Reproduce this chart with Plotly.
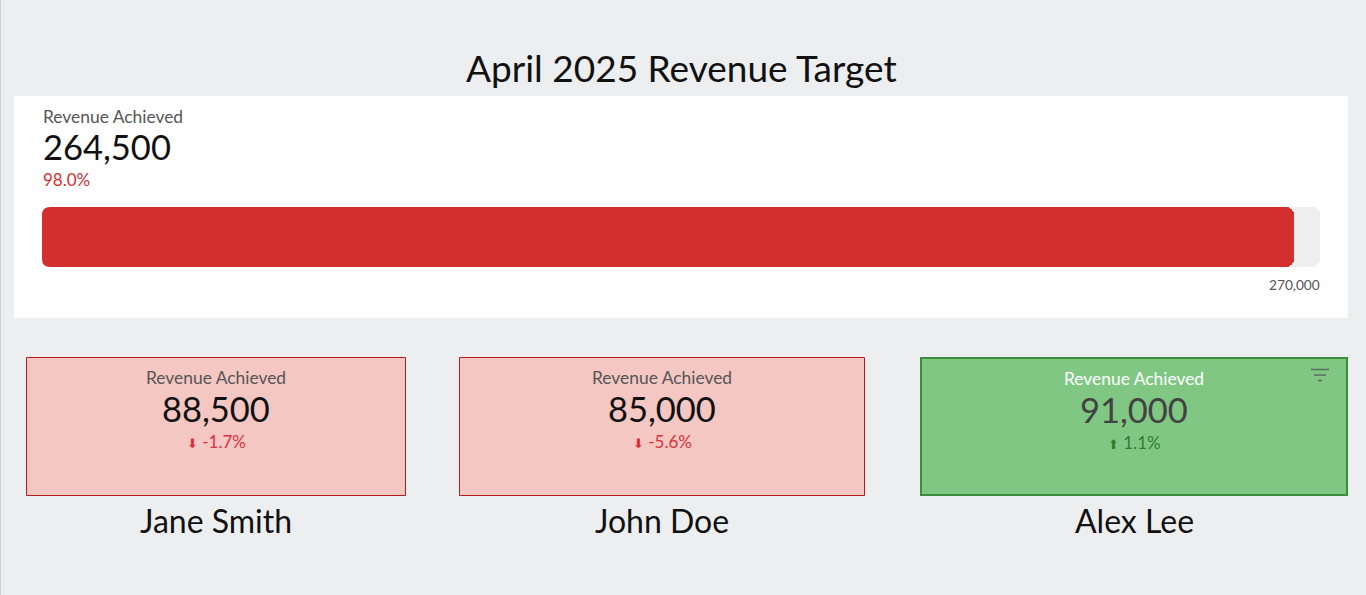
import plotly.graph_objects as go

WIDTH = 1366
HEIGHT = 595

# data
title = 'April 2025 Revenue Target'
metric_label = 'Revenue Achieved'
total_value = 264500
total_target = 270000
total_pct = '98.0%'
names = ['Jane Smith', 'John Doe', 'Alex Lee']
values = [88500, 85000, 91000]
changes = ['-1.7%', '-5.6%', '1.1%']
arrows = ['\u2b07', '\u2b07', '\u2b06']

# pixel boxes of the three cards (left, right, top, bottom)
card_left = [26.5, 459.5, 921]
card_right = [405.5, 864.5, 1347]
card_top = [357.5, 357.5, 358]
card_bottom = [495.5, 495.5, 495]
card_fill = ['#f4c7c3', '#f4c7c3', '#81c784']
card_line = ['#b71c1c', '#b71c1c', '#388e3c']
card_line_w = [1, 1, 2]
label_color = ['#555555', '#555555', '#ffffff']
value_color = ['#111111', '#111111', '#424242']
change_color = ['#d9303a', '#d9303a', '#2e7d32']
card_dy = [0, 0, 1]

BG = '#edeef0'
RED = '#d32f2f'
FONT = 'Lato'


def px(x):
    return x / WIDTH


def py(y):
    return 1 - y / HEIGHT


def add_text(fig, text, x, y, size, color, anchor='center'):
    fig.add_annotation(
        text=text, x=px(x), y=py(y), xref='paper', yref='paper',
        xanchor=anchor, yanchor='middle', showarrow=False,
        font=dict(family=FONT, size=size, color=color),
        borderpad=0, borderwidth=0,
    )


def add_box(fig, x0, x1, y0, y1, fill, line=None, width=0):
    fig.add_shape(
        type='rect', xref='paper', yref='paper', layer='below',
        x0=px(x0), x1=px(x1), y0=py(y1), y1=py(y0),
        fillcolor=fill, line=dict(color=line, width=width),
    )


def corner_mask(fig, x, y, dx, dy):
    # white corner so the left end of the bar looks rounded too
    path = (f'M {px(x)},{py(y)} L {px(x + dx)},{py(y)} '
            f'Q {px(x)},{py(y)} {px(x)},{py(y + dy)} Z')
    fig.add_shape(
        type='path', xref='paper', yref='paper', path=path,
        fillcolor='#ffffff', line=dict(width=0),
    )


fig = go.Figure()

# progress bar: track on one axis pair, achieved value on an overlaying pair
fig.add_trace(go.Bar(
    x=[total_target], y=[''], orientation='h',
    marker=dict(color='#eeeeee', line=dict(width=0), cornerradius=8),
    hoverinfo='skip', showlegend=False,
))
fig.add_trace(go.Bar(
    x=[total_value], y=[''], orientation='h', xaxis='x2', yaxis='y2',
    marker=dict(color=RED, line=dict(width=0), cornerradius=8),
    hoverinfo='skip', showlegend=False,
))

bar_xaxis = dict(
    domain=[px(42), px(1320)], range=[0, total_target],
    visible=False, fixedrange=True,
)
bar_yaxis = dict(domain=[py(267), py(207)], visible=False, fixedrange=True)

fig.update_layout(
    width=WIDTH,
    height=HEIGHT,
    autosize=False,
    margin=dict(l=0, r=0, t=0, b=0),
    paper_bgcolor=BG,
    plot_bgcolor='rgba(0,0,0,0)',
    bargap=0,
    xaxis=bar_xaxis,
    yaxis=bar_yaxis,
    xaxis2=dict(bar_xaxis, overlaying='x'),
    yaxis2=dict(bar_yaxis, overlaying='y'),
)

# page edge and white panel
add_box(fig, 0, 1, 0, HEIGHT, '#cfd2d6')
add_box(fig, 14, 1348, 96, 318, '#ffffff')

corner_mask(fig, 42, 207, 8, 8)
corner_mask(fig, 42, 267, 8, -8)

add_text(fig, title, 681, 67, 37, '#111111')
add_text(fig, metric_label, 43, 117, 17.4, '#555555', 'left')
add_text(fig, f'{total_value:,}', 42.5, 146, 34.5, '#111111', 'left')
add_text(fig, total_pct, 43, 179, 17, RED, 'left')
add_text(fig, f'{total_target:,}', 1320, 284.5, 13.7, '#555555', 'right')

for i, name in enumerate(names):
    center = (card_left[i] + card_right[i]) / 2
    dy = card_dy[i]
    add_box(fig, card_left[i], card_right[i], card_top[i], card_bottom[i],
            card_fill[i], card_line[i], card_line_w[i])
    add_text(fig, metric_label, center, 377.5 + dy, 17.4, label_color[i])
    add_text(fig, f'{values[i]:,}', center, 408 + dy, 34.5, value_color[i])
    add_text(
        fig,
        f'<span style="font-family:DejaVu Sans;font-size:13px">{arrows[i]}</span> {changes[i]}',
        center, 441 + dy, 17, change_color[i],
    )
    add_text(fig, name, center, 520, 32, '#111111')

# filter icon on the last card
for x0, x1, y in [(1311, 1329, 369.5), (1314, 1326, 375), (1318, 1322, 380.5)]:
    fig.add_shape(
        type='line', xref='paper', yref='paper',
        x0=px(x0), x1=px(x1), y0=py(y), y1=py(y),
        line=dict(color='#5f6b62', width=1.5),
    )

fig.write_html(
    'out.html',
    config=dict(displayModeBar=False),
    post_script="document.body.style.margin='0';",
)
